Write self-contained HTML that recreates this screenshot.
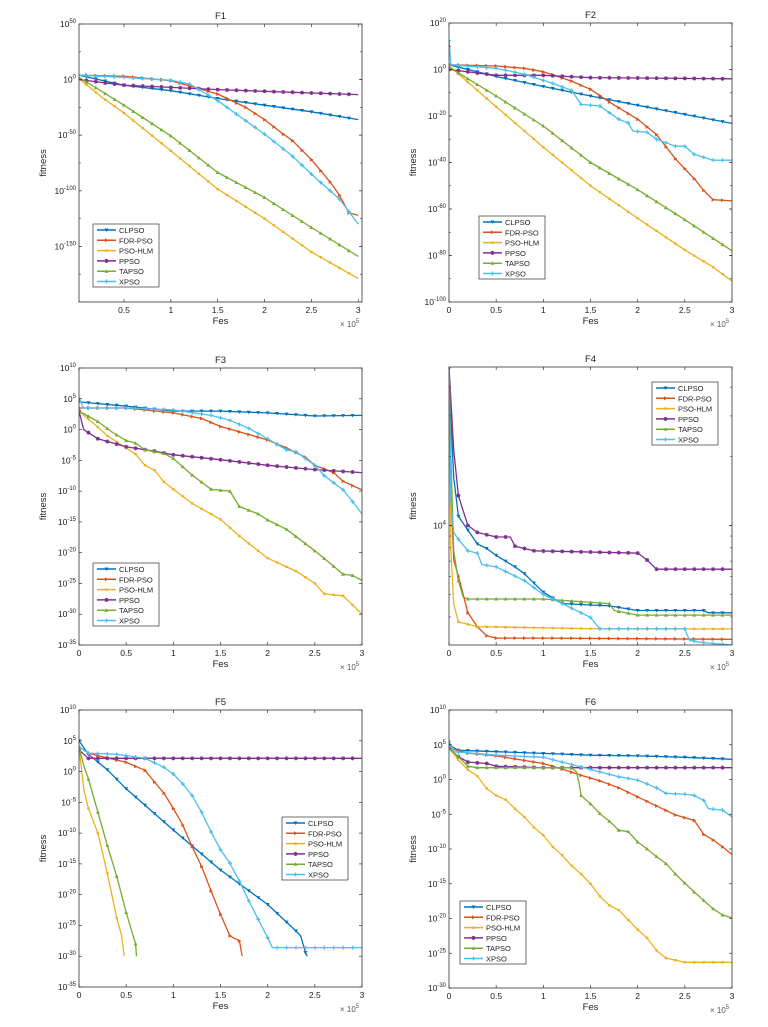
<!DOCTYPE html>
<html><head><meta charset="utf-8"><style>
body{margin:0;background:#fff;}
svg{display:block;font-family:"Liberation Sans",sans-serif;}
</style></head><body>
<svg id="fig" width="768" height="1027" viewBox="0 0 768 1027"></svg>
<script>
const names = ["CLPSO","FDR-PSO","PSO-HLM","PPSO","TAPSO","XPSO"];
const colors = ["#0072BD","#D95319","#EDB120","#7E2F8E","#77AC30","#4DBEEE"];
// data: log10(fitness) values at x (×1e5 Fes)
const f1x = {
 CLPSO:[0.02,0.5,1,1.5,2,2.5,3],
 FDR:[0.02,0.5,1,1.3,1.5,1.8,2,2.2,2.3,2.5,2.7,2.8,2.9,3],
 HLM:[0.02,0.25,0.5,1,1.5,2,2.5,3],
 PPSO:[0.02,0.5,1,1.5,2,3],
 TAPSO:[0.02,0.5,1,1.5,2,2.5,3],
 XPSO:[0.02,0.5,1,1.2,1.5,2,2.3,2.5,2.8,3]};
const f1y = {
 CLPSO:[4,-5,-10,-17,-23,-29,-36],
 FDR:[4,3,-1,-8,-13,-25,-36,-49,-55,-72,-92,-104,-120,-122],
 HLM:[1,-15,-30,-64,-98.5,-125,-155,-179],
 PPSO:[0,-5,-7,-9,-10.5,-13.5],
 TAPSO:[2,-23,-50.6,-83.5,-106,-133,-159],
 XPSO:[4,2,-0.6,-4,-19,-49,-69,-85,-107.5,-130]};
const f2x = {
 CLPSO:[0,0.5,1,1.5,2,2.5,3],
 FDR:[0,0.5,0.8,1,1.3,1.5,1.7,2,2.2,2.4,2.6,2.7,2.8,3],
 HLM:[0,0.5,1,1.5,2,2.5,2.8,3],
 PPSO:[0,0.5,1,1.5,3],
 TAPSO:[0,0.5,1,1.5,2,2.5,3],
 XPSO:[0,0.02,0.5,0.8,1.1,1.3,1.4,1.6,1.8,1.9,1.95,2.1,2.2,2.4,2.5,2.6,2.8,3]};
const f2y = {
 CLPSO:[2,-3,-7.3,-11.4,-15.4,-19.3,-23.2],
 FDR:[2,1.5,0.5,-1,-5,-8.5,-14,-21.4,-28,-38.4,-47,-52,-56,-56.5],
 HLM:[1.6,-16,-33.4,-50,-64,-77.6,-85,-91],
 PPSO:[0,-2.5,-2.5,-3.5,-4],
 TAPSO:[1,-11.4,-24.3,-40,-51.7,-64.6,-78],
 XPSO:[12.4,2,0.5,-2,-6,-9,-15,-15.7,-21.4,-23,-26.5,-27,-30,-33,-33,-36.5,-39,-39]};
const f3x = {
 CLPSO:[0,0.5,1,1.5,2,2.5,3],
 FDR:[0,0.5,1,1.3,1.5,1.8,2,2.2,2.4,2.5,2.7,2.8,3],
 HLM:[0,0.2,0.3,0.5,0.6,0.7,0.8,0.9,1,1.2,1.5,1.7,2,2.3,2.5,2.6,2.8,3],
 PPSO:[0,0.05,0.2,0.5,0.8,1,1.5,2,2.5,3],
 TAPSO:[0,0.2,0.35,0.5,0.6,0.7,0.9,1,1.2,1.4,1.6,1.7,1.9,2,2.2,2.5,2.7,2.8,2.9,3],
 XPSO:[0,0.05,0.5,1,1.4,1.6,1.8,2,2.2,2.3,2.5,2.6,2.8,2.9,3]};
const f3y = {
 CLPSO:[4.5,3.8,3,3,2.7,2.2,2.3],
 FDR:[3.5,3.5,2.7,1.8,0.5,-0.8,-1.7,-3,-4.5,-5.8,-7,-8.4,-9.8],
 HLM:[3,0.4,-1,-3,-4,-5.8,-6.6,-8.5,-9.7,-12,-14.6,-17.3,-20.9,-23,-25,-26.7,-27,-30],
 PPSO:[3,0,-1.5,-2.8,-3.5,-4.1,-4.9,-5.8,-6.5,-7],
 TAPSO:[3,1.3,-0.4,-1.8,-2.2,-3.3,-3.9,-4.7,-7.4,-9.7,-10,-12.5,-13.7,-14.7,-16.2,-19.7,-22.2,-23.5,-23.7,-24.5],
 XPSO:[5,3.5,3.5,3.2,2.3,1.5,0.2,-1.5,-3.3,-3.6,-5.8,-7.5,-9.8,-11.7,-13.7]};
const f4x = {
 CLPSO:[0,0.02,0.05,0.1,0.2,0.3,0.4,0.5,0.7,0.8,1,1.2,1.7,2,2.7,2.75,3],
 FDR:[0,0.02,0.05,0.1,0.2,0.3,0.4,0.5,1,3],
 HLM:[0,0.02,0.05,0.1,0.2,0.3,1.6,3],
 PPSO:[0,0.05,0.1,0.2,0.3,0.5,0.65,0.7,0.9,2,2.1,2.2,3],
 TAPSO:[0,0.02,0.05,0.1,0.15,0.2,1,1.7,1.75,2,3],
 XPSO:[0,0.02,0.05,0.1,0.2,0.3,0.35,0.5,0.8,1,1.1,1.5,1.6,2.5,2.55,2.7,3]};
const f4y = {
 CLPSO:[4.69,4.47,4.21,4.04,3.98,3.92,3.9,3.87,3.82,3.79,3.71,3.66,3.65,3.63,3.63,3.62,3.62],
 FDR:[4.69,4.16,3.85,3.78,3.62,3.56,3.52,3.51,3.51,3.505],
 HLM:[4.69,3.89,3.66,3.58,3.57,3.56,3.55,3.55],
 PPSO:[4.69,4.33,4.13,4.0,3.97,3.95,3.95,3.91,3.89,3.88,3.85,3.81,3.81],
 TAPSO:[4.69,4.3,3.89,3.76,3.69,3.68,3.68,3.66,3.63,3.61,3.61],
 XPSO:[4.69,4.11,3.97,3.94,3.89,3.88,3.83,3.82,3.76,3.7,3.68,3.6,3.55,3.55,3.5,3.49,3.48]};
const f5x = {
 CLPSO:[0,0.1,0.3,0.5,1,1.5,2,2.3,2.35,2.4,2.42],
 FDR:[0,0.1,0.3,0.5,0.7,0.8,0.9,1,1.1,1.2,1.3,1.4,1.5,1.6,1.7,1.73],
 HLM:[0,0.05,0.1,0.2,0.3,0.4,0.45,0.48],
 PPSO:[0,0.1,3],
 TAPSO:[0,0.05,0.1,0.2,0.3,0.4,0.5,0.6,0.61],
 XPSO:[0,0.1,0.4,0.7,0.9,1,1.1,1.2,1.3,1.4,1.5,1.6,1.7,1.8,1.9,2,2.05,3]};
const f5y = {
 CLPSO:[5,2.8,0.3,-2.8,-9.5,-16,-21.6,-25.9,-26.7,-29.4,-30],
 FDR:[4,3,2.2,1.5,0.2,-1.7,-3.5,-6,-8.7,-12.2,-15.4,-19.4,-23.2,-26.7,-27.5,-30],
 HLM:[4,-2.8,-6,-10,-16.5,-23.8,-26.5,-30],
 PPSO:[3.5,2.15,2.15],
 TAPSO:[4,1,-1.2,-6.6,-12,-17,-22.9,-28,-30],
 XPSO:[4,3,2.8,2.15,0.7,-0.4,-2,-3.9,-6.6,-9.8,-12.7,-14.9,-17.8,-21,-24,-27,-28.6,-28.6]};
const f6x = {
 CLPSO:[0,0.1,0.5,1,1.5,2,2.5,3],
 FDR:[0,0.2,0.5,1,1.2,1.4,1.6,1.8,2,2.2,2.4,2.6,2.7,2.8,2.9,3],
 HLM:[0,0.1,0.2,0.3,0.4,0.5,0.6,0.7,0.8,0.9,1,1.1,1.2,1.3,1.4,1.5,1.6,1.7,1.8,2,2.1,2.2,2.3,2.5,3],
 PPSO:[0,0.1,0.2,0.4,0.5,1,3],
 TAPSO:[0,0.1,0.2,0.3,1.3,1.35,1.38,1.4,1.5,1.6,1.7,1.8,1.9,2,2.1,2.2,2.3,2.4,2.5,2.6,2.7,2.8,2.9,3],
 XPSO:[0,0.05,0.5,1,1.2,1.4,1.6,1.8,2,2.2,2.3,2.5,2.6,2.7,2.75,2.9,3]};
const f6y = {
 CLPSO:[5,4.2,4,3.75,3.5,3.4,3.2,2.9],
 FDR:[4.5,3.8,3.4,2.3,1.5,0.6,-0.2,-1.2,-2.5,-3.8,-5.1,-5.9,-7.9,-8.7,-9.7,-10.8],
 HLM:[4.5,2.8,1.4,0.5,-1.3,-2.3,-2.9,-4.2,-5.4,-6.9,-8,-9.7,-10.9,-12.4,-13.6,-15,-16.8,-18.1,-18.8,-21.6,-22.8,-24.6,-25.7,-26.3,-26.3],
 PPSO:[4.5,3.3,2.5,2.3,1.9,1.7,1.7],
 TAPSO:[4.5,3.3,1.9,1.7,1.7,1.1,-0.6,-2.3,-3.5,-4.9,-6,-7.3,-7.5,-9,-10,-11.1,-12.1,-13.6,-14.9,-16.2,-17.4,-18.6,-19.5,-19.9],
 XPSO:[5.5,4,3.5,3.2,2.5,1.8,1.1,0.4,-0.1,-1.2,-2,-2.1,-2.3,-3,-4.2,-4.4,-5.4]};
const f1ticks=[50,0,-50,-100,-150], f2ticks=[20,0,-20,-40,-60,-80,-100],
      f3ticks=[10,5,0,-5,-10,-15,-20,-25,-30,-35], f5ticks=[10,5,0,-5,-10,-15,-20,-25,-30,-35],
      f6ticks=[10,5,0,-5,-10,-15,-20,-25,-30], f4ticks=[4];
const xticksA=[0.5,1,1.5,2,2.5,3], xticksB=[0,0.5,1,1.5,2,2.5,3];

const panels=[
 {id:"f1",title:"F1",L:79,R:362,T:24,B:302,x0:0.02,x1:3.04,y0:-200,y1:50,xs:f1x,ys:f1y,yt:f1ticks,xt:xticksA,minor:25,leg:[93,224]},
 {id:"f2",title:"F2",L:449,R:732,T:23,B:302,x0:0,x1:3,y0:-100,y1:20,xs:f2x,ys:f2y,yt:f2ticks,xt:xticksB,minor:10,leg:[479,216]},
 {id:"f3",title:"F3",L:79,R:362,T:368,B:645,x0:0,x1:3,y0:-35,y1:10,xs:f3x,ys:f3y,yt:f3ticks,xt:xticksB,minor:0,leg:[93,563]},
 {id:"f4",title:"F4",L:449,R:732,T:367,B:645,x0:0,x1:3,y0:3.48,y1:4.69,xs:f4x,ys:f4y,yt:f4ticks,xt:xticksB,minor:-1,leg:[652,382]},
 {id:"f5",title:"F5",L:79,R:362,T:710,B:987,x0:0,x1:3,y0:-35,y1:10,xs:f5x,ys:f5y,yt:f5ticks,xt:xticksB,minor:0,leg:[282,817]},
 {id:"f6",title:"F6",L:449,R:732,T:710,B:988,x0:0,x1:3,y0:-30,y1:10,xs:f6x,ys:f6y,yt:f6ticks,xt:xticksB,minor:0,leg:[460,901]}
];
const keys=["CLPSO","FDR","HLM","PPSO","TAPSO","XPSO"];
const NS="http://www.w3.org/2000/svg";
const svg=document.getElementById("fig");
function mk(tag,attrs,parent){const e=document.createElementNS(NS,tag);for(const k in attrs)e.setAttribute(k,attrs[k]);(parent||svg).appendChild(e);return e;}
function marker(g,k,x,y,c){
  let e;
  if(k===0) e=mk("path",{d:`M${x-2},${y-1.5}L${x+2},${y-1.5}L${x},${y+2}Z`,fill:c},g);
  else if(k===1) e=mk("path",{d:`M${x-1.5},${y-2}L${x+2},${y}L${x-1.5},${y+2}Z`,fill:c},g);
  else if(k===2) e=mk("rect",{x:x-1.2,y:y-1.2,width:2.4,height:2.4,fill:c},g);
  else if(k===3) e=mk("path",{d:`M${x-2},${y}L${x+2},${y}M${x},${y-2}L${x},${y+2}M${x-1.5},${y-1.5}L${x+1.5},${y+1.5}M${x-1.5},${y+1.5}L${x+1.5},${y-1.5}`,stroke:c,"stroke-width":1},g);
  else if(k===4) e=mk("path",{d:`M${x-2},${y+1.5}L${x+2},${y+1.5}L${x},${y-2}Z`,fill:c},g);
  else e=mk("path",{d:`M${x-2},${y}L${x+2},${y}M${x},${y-2}L${x},${y+2}`,stroke:c,"stroke-width":1.2},g);
  
  
}
function interp(xs,ys,x){for(let i=1;i<xs.length;i++){if(x<=xs[i]){const t=(x-xs[i-1])/(xs[i]-xs[i-1]||1);return ys[i-1]+t*(ys[i]-ys[i-1]);}}return null;}

panels.forEach(p=>{
  const g=mk("g",{});
  
  
  const sx=v=>p.L+(v-p.x0)/(p.x1-p.x0)*(p.R-p.L);
  const sy=v=>p.B-(v-p.y0)/(p.y1-p.y0)*(p.B-p.T);
  const bg=mk("rect",{x:p.L,y:p.T,width:p.R-p.L,height:p.B-p.T,fill:"#fff"},g);
  
  
  const clipId="clip"+p.id;
  const cp=mk("clipPath",{id:clipId},g);mk("rect",{x:p.L,y:p.T,width:p.R-p.L,height:p.B-p.T},cp);
  // series
  keys.forEach((k,i)=>{
    const xs=p.xs[k], ys=p.ys[k];
    let d="";
    xs.forEach((x,j)=>{d+=(j?"L":"M")+sx(x).toFixed(1)+","+sy(ys[j]).toFixed(1);});
    const sg=mk("g",{"clip-path":`url(#${clipId})`},g);
    
    
    const pl=mk("path",{d:d,fill:"none",stroke:colors[i],"stroke-width":1.3,"stroke-linejoin":"round"},sg);
    
    
    for(let m=Math.ceil(xs[0]*10)/10;m<=xs[xs.length-1]+1e-9;m+=0.1){
      const v=interp(xs,ys,m); if(v===null)continue;
      marker(sg,i,sx(m),sy(v),colors[i]);
    }
  });
  // axes box
  const box=mk("rect",{x:p.L,y:p.T,width:p.R-p.L,height:p.B-p.T,fill:"none",stroke:"#333","stroke-width":0.8},g);
  
  
  // x ticks
  p.xt.forEach(t=>{
    const x=sx(t);
    mk("line",{x1:x,x2:x,y1:p.B,y2:p.B-3,stroke:"#333","stroke-width":0.7},g);
    mk("line",{x1:x,x2:x,y1:p.T,y2:p.T+3,stroke:"#333","stroke-width":0.7},g);
    const tx=mk("text",{x:x,y:p.B+11,"font-size":8.5,"text-anchor":"middle",fill:"#222"},g);
    tx.textContent=String(t);
    
    
  });
  // y ticks
  if(p.minor===-1){
    for(let d=3;d<=4;d++)for(let m=1;m<10;m++){const v=d+Math.log10(m);if(v<p.y0||v>p.y1)continue;const y=sy(v);
      mk("line",{x1:p.L,x2:p.L+(m===1?3:2),y1:y,y2:y,stroke:"#333","stroke-width":0.6},g);
      mk("line",{x1:p.R,x2:p.R-(m===1?3:2),y1:y,y2:y,stroke:"#333","stroke-width":0.6},g);}
  } else if(p.minor>0){
    for(let v=p.y0;v<=p.y1;v+=p.minor){const y=sy(v);
      mk("line",{x1:p.L,x2:p.L+2,y1:y,y2:y,stroke:"#333","stroke-width":0.6},g);
      mk("line",{x1:p.R,x2:p.R-2,y1:y,y2:y,stroke:"#333","stroke-width":0.6},g);}
  }
  p.yt.forEach(t=>{
    const y=sy(t);
    mk("line",{x1:p.L,x2:p.L+3,y1:y,y2:y,stroke:"#333","stroke-width":0.7},g);
    mk("line",{x1:p.R,x2:p.R-3,y1:y,y2:y,stroke:"#333","stroke-width":0.7},g);
    const tx=mk("text",{x:p.L-3,y:y+3,"font-size":8.5,"text-anchor":"end",fill:"#222"},g);
    
    
    const a=mk("tspan",{},tx);a.textContent="10";
    const b=mk("tspan",{dy:-4,"font-size":6},tx);b.textContent=String(t);
  });
  const ti=mk("text",{x:(p.L+p.R)/2,y:p.T-5,"font-size":9.5,"text-anchor":"middle",fill:"#222"},g);
  ti.textContent=p.title;
  
  
  const xl=mk("text",{x:(p.L+p.R)/2,y:p.B+22,"font-size":9.5,"text-anchor":"middle",fill:"#222"},g);
  xl.textContent="Fes";
  
  
  const ex=mk("text",{x:p.R-22,y:p.B+25,"font-size":8,fill:"#555"},g);
  
  
  const e1=mk("tspan",{},ex);e1.textContent="× 10";
  const e2=mk("tspan",{dy:-4,"font-size":6},ex);e2.textContent="5";
  const yl=mk("text",{x:0,y:0,"font-size":9.5,"text-anchor":"middle",fill:"#222",transform:`translate(${p.L-33},${(p.T+p.B)/2}) rotate(-90)`},g);
  yl.textContent="fitness";
  
  
  // legend
  const lg=mk("g",{},g);
  
  
  const [lx,ly]=p.leg;
  mk("rect",{x:lx,y:ly,width:66,height:63,fill:"#fff",stroke:"#333","stroke-width":0.7},lg);
  names.forEach((n,i)=>{
    const y=ly+6+i*10.3;
    const le=mk("g",{},lg);
    
    
    mk("line",{x1:lx+4,x2:lx+23,y1:y,y2:y,stroke:colors[i],"stroke-width":1.5},le);
    marker(le,i,lx+13.5,y,colors[i]);
    const t=mk("text",{x:lx+26,y:y+3,"font-size":7.5,fill:"#222"},le);
    t.textContent=n;
  });
});
</script>
</body></html>
